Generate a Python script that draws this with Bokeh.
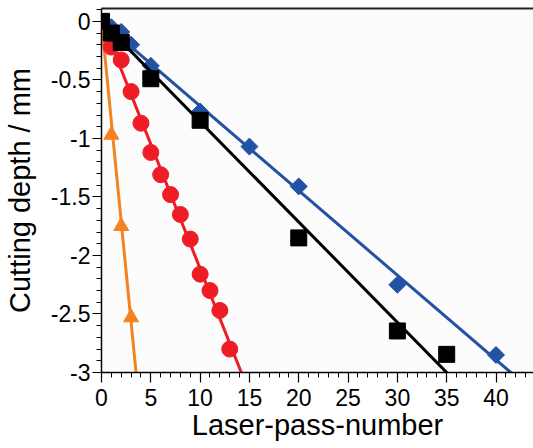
import numpy as np
from bokeh.plotting import figure
from bokeh.models import (Range1d, SingleIntervalTicker, LinearAxis,
                          CustomJSTickFormatter, FixedTicker)
from bokeh.embed import file_html
from bokeh.resources import INLINE

# ---- data ----
black_x = [0, 1, 2, 5, 10, 20, 30, 35]
black_y = [0, -0.10, -0.18, -0.49, -0.845, -1.85, -2.645, -2.845]

blue_x = [0, 1, 2, 3, 5, 10, 15, 20, 30, 40]
blue_y = [0, -0.05, -0.09, -0.20, -0.38, -0.77, -1.07, -1.41, -2.25, -2.85]

red_x = [1, 2, 3, 4, 5, 6, 7, 8, 9, 10, 11, 12, 13]
red_y = [-0.22, -0.33, -0.60, -0.87, -1.12, -1.31, -1.48, -1.65,
         -1.86, -2.16, -2.30, -2.47, -2.80]

orange_x = [1, 2, 3]
orange_y = [-0.97, -1.75, -2.53]

# fitted straight lines (end points)
black_fit_x = [0, 35.58]
black_fit_y = [0, -3.05]
blue_fit_x = [0, 42.19]
blue_fit_y = [0, -3.05]
red_fit_x = [0, 14.41]
red_fit_y = [0.013, -3.05]
orange_fit_x = [0, 3.56]
orange_fit_y = [0, -3.05]

x_title = "Laser-pass-number"
y_title = "Cutting depth / mm"

FONT = "Liberation Sans"
BLACK = "#000000"
BLUE = "#2352a3"
RED = "#ee1d25"
ORANGE = "#f58220"

p = figure(width=533, height=448,
           x_range=Range1d(0, 43.8), y_range=Range1d(-3, 0.11),
           output_backend="svg", toolbar_location=None,
           min_border_left=101, min_border_right=0,
           min_border_top=8, min_border_bottom=76)
p.outline_line_color = None
p.grid.visible = False
p.background_fill_color = "#fcfcfc"
p.border_fill_color = "white"

fmt = CustomJSTickFormatter(code="return String(Math.round(tick*100)/100);")

for ax in (p.xaxis[0], p.yaxis[0]):
    ax.formatter = fmt
    ax.axis_line_width = 1.5
    ax.axis_line_color = BLACK
    ax.major_tick_line_color = BLACK
    ax.minor_tick_line_color = BLACK
    ax.major_tick_line_width = 1.2
    ax.minor_tick_line_width = 1
    ax.major_tick_in = 0
    ax.minor_tick_in = 0
    ax.major_label_text_font = FONT
    ax.major_label_text_font_size = "23px"
    ax.major_label_text_color = BLACK
    ax.axis_label_text_font = FONT
    ax.axis_label_text_font_size = "29px"
    ax.axis_label_text_font_style = "normal"
    ax.axis_label_text_color = BLACK

p.xaxis.ticker = SingleIntervalTicker(interval=5, num_minor_ticks=5)
p.yaxis.ticker = SingleIntervalTicker(interval=0.5, num_minor_ticks=5)
p.xaxis.axis_label = x_title
p.yaxis.axis_label = y_title
p.xaxis.major_tick_out = 10
p.xaxis.minor_tick_out = 5
p.yaxis.major_tick_out = 9
p.yaxis.minor_tick_out = 5
p.xaxis.major_label_standoff = 6
p.xaxis.axis_label_standoff = 0
p.yaxis.major_label_standoff = 2
p.yaxis.axis_label_standoff = 12

top = LinearAxis(ticker=FixedTicker(ticks=[]), major_label_text_font_size="0px",
                 major_tick_out=0, minor_tick_out=0, major_label_standoff=0,
                 axis_line_width=2, axis_line_color="#222222")
p.add_layout(top, "above")

# orange
p.line(orange_fit_x, orange_fit_y, line_color=ORANGE, line_width=3)
p.scatter(orange_x, orange_y, marker="triangle", size=15,
          fill_color=ORANGE, line_color=ORANGE)
# red
p.line(red_fit_x, red_fit_y, line_color=RED, line_width=3)
p.scatter(red_x, red_y, marker="circle", size=16,
          fill_color=RED, line_color=RED)
# blue
p.line(blue_fit_x, blue_fit_y, line_color=BLUE, line_width=3)
p.scatter(blue_x, blue_y, marker="square", size=12, angle=np.pi / 4,
          fill_color=BLUE, line_color=BLUE)
# black
p.line(black_fit_x, black_fit_y, line_color=BLACK, line_width=3)
p.scatter(black_x, black_y, marker="square", size=16,
          fill_color=BLACK, line_color=BLACK)

open("out.html", "w").write(file_html(p, INLINE))
